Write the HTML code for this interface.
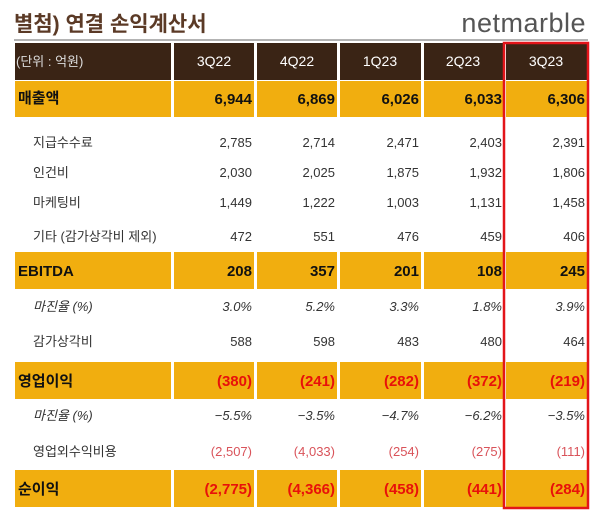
<!DOCTYPE html>
<html><head><meta charset="utf-8"><style>
body{margin:0;background:#fff}
svg text{font-family:"Liberation Sans","Noto Sans CJK KR",sans-serif}
</style></head><body>
<svg width="600" height="523" viewBox="0 0 600 523" xmlns="http://www.w3.org/2000/svg">
<rect width="600" height="523" fill="#fff"/>
<text x="14" y="31" font-size="21" font-weight="bold" fill="#5b3a26" font-family="'Noto Sans CJK KR',sans-serif">별첨) 연결 손익계산서</text>
<text x="586" y="32" font-size="27" fill="#555" text-anchor="end" letter-spacing="0.5">netmarble</text>
<line x1="14" y1="40" x2="588" y2="40" stroke="#9a9a9a" stroke-width="1.5"/>
<g fill="#3a2415">
<rect x="15" y="43" width="156" height="37"/><rect x="174" y="43" width="80" height="37"/><rect x="257" y="43" width="80" height="37"/><rect x="340" y="43" width="81" height="37"/><rect x="424" y="43" width="79" height="37"/><rect x="506" y="43" width="81" height="37"/>
</g>
<g fill="#f1ae0f">
<rect x="15" y="81" width="156" height="36"/><rect x="174" y="81" width="80" height="36"/><rect x="257" y="81" width="80" height="36"/><rect x="340" y="81" width="81" height="36"/><rect x="424" y="81" width="79" height="36"/><rect x="506" y="81" width="81" height="36"/>
<rect x="15" y="252" width="156" height="37"/><rect x="174" y="252" width="80" height="37"/><rect x="257" y="252" width="80" height="37"/><rect x="340" y="252" width="81" height="37"/><rect x="424" y="252" width="79" height="37"/><rect x="506" y="252" width="81" height="37"/>
<rect x="15" y="362" width="156" height="37"/><rect x="174" y="362" width="80" height="37"/><rect x="257" y="362" width="80" height="37"/><rect x="340" y="362" width="81" height="37"/><rect x="424" y="362" width="79" height="37"/><rect x="506" y="362" width="81" height="37"/>
<rect x="15" y="470" width="156" height="37"/><rect x="174" y="470" width="80" height="37"/><rect x="257" y="470" width="80" height="37"/><rect x="340" y="470" width="81" height="37"/><rect x="424" y="470" width="79" height="37"/><rect x="506" y="470" width="81" height="37"/>
</g>
<g font-size="14" fill="#fff" text-anchor="middle">
<text x="16" y="66" text-anchor="start" font-size="13" fill="#ddd">(단위 : 억원)</text>
<text x="214" y="66">3Q22</text><text x="297" y="66">4Q22</text><text x="380" y="66">1Q23</text><text x="463" y="66">2Q23</text><text x="546" y="66">3Q23</text>
</g>
<g font-size="15" font-weight="bold" text-anchor="end" fill="#111">
<text x="18" y="103" text-anchor="start">매출액</text>
<text x="252" y="104">6,944</text><text x="335" y="104">6,869</text><text x="419" y="104">6,026</text><text x="502" y="104">6,033</text><text x="585" y="104">6,306</text>
<text x="18" y="276" text-anchor="start">EBITDA</text>
<text x="252" y="276">208</text><text x="335" y="276">357</text><text x="419" y="276">201</text><text x="502" y="276">108</text><text x="585" y="276">245</text>
<text x="18" y="386" text-anchor="start">영업이익</text>
<text x="18" y="494" text-anchor="start">순이익</text>
</g>
<g font-size="15" font-weight="bold" text-anchor="end" fill="#e8110a">
<text x="252" y="386">(380)</text><text x="335" y="386">(241)</text><text x="419" y="386">(282)</text><text x="502" y="386">(372)</text><text x="585" y="386">(219)</text>
<text x="252" y="494">(2,775)</text><text x="335" y="494">(4,366)</text><text x="419" y="494">(458)</text><text x="502" y="494">(441)</text><text x="585" y="494">(284)</text>
</g>
<g font-size="13" text-anchor="end" fill="#333">
<text x="33" y="147" text-anchor="start">지급수수료</text>
<text x="252" y="147">2,785</text><text x="335" y="147">2,714</text><text x="419" y="147">2,471</text><text x="502" y="147">2,403</text><text x="585" y="147">2,391</text>
<text x="33" y="177" text-anchor="start">인건비</text>
<text x="252" y="177">2,030</text><text x="335" y="177">2,025</text><text x="419" y="177">1,875</text><text x="502" y="177">1,932</text><text x="585" y="177">1,806</text>
<text x="33" y="207" text-anchor="start">마케팅비</text>
<text x="252" y="207">1,449</text><text x="335" y="207">1,222</text><text x="419" y="207">1,003</text><text x="502" y="207">1,131</text><text x="585" y="207">1,458</text>
<text x="33" y="241" text-anchor="start">기타 (감가상각비 제외)</text>
<text x="252" y="241">472</text><text x="335" y="241">551</text><text x="419" y="241">476</text><text x="502" y="241">459</text><text x="585" y="241">406</text>
<g font-style="italic">
<text x="33" y="311" text-anchor="start">마진율 (%)</text>
<text x="252" y="311">3.0%</text><text x="335" y="311">5.2%</text><text x="419" y="311">3.3%</text><text x="502" y="311">1.8%</text><text x="585" y="311">3.9%</text>
<text x="33" y="420" text-anchor="start">마진율 (%)</text>
<text x="252" y="420">−5.5%</text><text x="335" y="420">−3.5%</text><text x="419" y="420">−4.7%</text><text x="502" y="420">−6.2%</text><text x="585" y="420">−3.5%</text>
</g>
<text x="33" y="346" text-anchor="start">감가상각비</text>
<text x="252" y="346">588</text><text x="335" y="346">598</text><text x="419" y="346">483</text><text x="502" y="346">480</text><text x="585" y="346">464</text>
<text x="33" y="456" text-anchor="start">영업외수익비용</text>
</g>
<g font-size="13" text-anchor="end" fill="#d9535a">
<text x="252" y="456">(2,507)</text><text x="335" y="456">(4,033)</text><text x="419" y="456">(254)</text><text x="502" y="456">(275)</text><text x="585" y="456">(111)</text>
</g>
<rect x="504" y="43" width="84" height="465" fill="none" stroke="#e3151a" stroke-width="2.5"/>
</svg>
</body></html>
